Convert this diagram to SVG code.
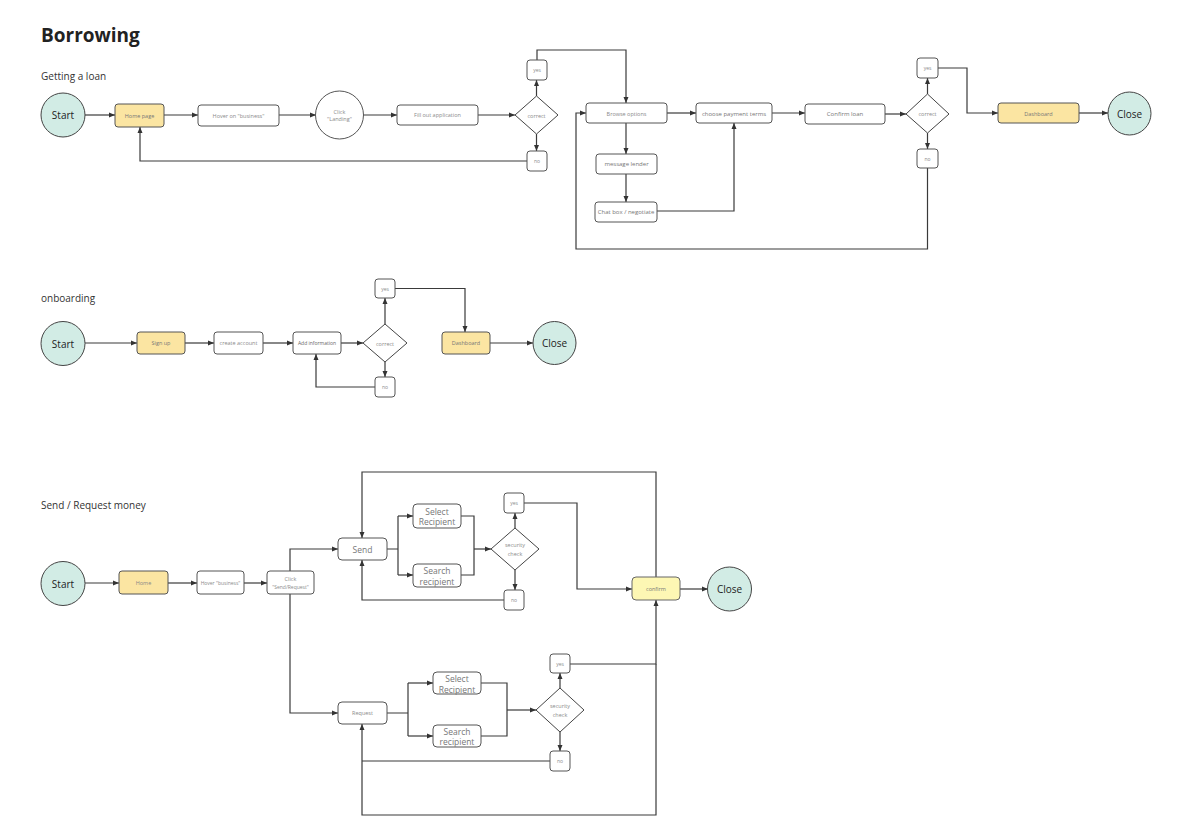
<svg xmlns="http://www.w3.org/2000/svg" width="1190" height="839" viewBox="0 0 1190 839">
<defs>
<marker id="ar" markerUnits="userSpaceOnUse" markerWidth="6" markerHeight="6" refX="6" refY="3" orient="auto">
<path d="M0,0.5 L6,3 L0,5.5 z" fill="#333"/>
</marker>
<style>
.ln{fill:none;stroke:#3a3a3a;stroke-width:1.2;}
.ar{marker-end:url(#ar);}
.box{fill:#fff;stroke:#555;stroke-width:1;}
.yel{fill:#fbe5a2;stroke:#555;stroke-width:1;}
.pale{fill:#fdf7b4;stroke:#666;stroke-width:1;}
.circ{fill:#d2ece5;stroke:#444;stroke-width:1;}
.dia{fill:#fff;stroke:#444;stroke-width:1;}
text{font-family:"Open Sans","Noto Sans","Liberation Sans",sans-serif;text-anchor:middle;dominant-baseline:central;}
.t6{font-size:5.5px;fill:#8a8a8a;}
.t5{font-size:5px;fill:#8a8a8a;}
.t7{font-size:6px;fill:#777;}
.t9{font-size:8.5px;fill:#777;}
.big{font-size:10px;fill:#222;}
.hd{font-size:10px;fill:#333;text-anchor:start;dominant-baseline:auto;}
</style>
</defs>
<rect width="1190" height="839" fill="#fff"/>
<text x="41" y="42" style="font-size:19px;font-weight:700;fill:#222;text-anchor:start;dominant-baseline:auto;">Borrowing</text>
<text class="hd" x="41" y="80">Getting a loan</text>
<text class="hd" x="41" y="302">onboarding</text>
<text class="hd" x="41" y="509">Send / Request money</text>

<g id="connectors">
<path class="ln ar" d="M85,115 H115"/>
<path class="ln ar" d="M164,115 H198"/>
<path class="ln ar" d="M279,115 H316"/>
<path class="ln ar" d="M363,115 H397"/>
<path class="ln ar" d="M478,115 H515"/>
<path class="ln ar" d="M536.5,96 V80"/>
<path class="ln ar" d="M536.5,134 V151"/>
<path class="ln ar" d="M537,60 V50 H626 V103"/>
<path class="ln ar" d="M527,161 H140 V127"/>
<path class="ln ar" d="M667,113 H696"/>
<path class="ln ar" d="M772,113 H805"/>
<path class="ln ar" d="M885,114 H906"/>
<path class="ln ar" d="M927.5,94 V78"/>
<path class="ln ar" d="M927.5,133 V149"/>
<path class="ln ar" d="M938,68 H967 V113 H998"/>
<path class="ln ar" d="M1079,113 H1108"/>
<path class="ln ar" d="M927.5,168 V249 H576 V113 H586"/>
<path class="ln ar" d="M626,123 V154"/>
<path class="ln ar" d="M626,174 V202"/>
<path class="ln ar" d="M657,211 H734 V123"/>
<path class="ln ar" d="M85,343 H137"/>
<path class="ln ar" d="M185,343 H214"/>
<path class="ln ar" d="M263,343 H293"/>
<path class="ln ar" d="M341,343 H363"/>
<path class="ln ar" d="M385,324 V298"/>
<path class="ln ar" d="M385,362 V377"/>
<path class="ln ar" d="M395,288.5 H465 V332"/>
<path class="ln ar" d="M490,343 H533"/>
<path class="ln ar" d="M375,387 H316 V354"/>
<path class="ln ar" d="M85,583 H119"/>
<path class="ln ar" d="M168,583 H197"/>
<path class="ln ar" d="M244,583 H267"/>
<path class="ln ar" d="M290,571 V549 H338"/>
<path class="ln ar" d="M290,594 V713 H338"/>
<path class="ln" d="M387,549 H398 M398,516 V575"/>
<path class="ln ar" d="M398,516 H413"/>
<path class="ln ar" d="M398,575 H413"/>
<path class="ln" d="M461,516 H474 V575 H461"/>
<path class="ln ar" d="M474,549 H491"/>
<path class="ln ar" d="M515,528 V513"/>
<path class="ln ar" d="M515,570 V590"/>
<path class="ln ar" d="M524,503 H577 V589 H632"/>
<path class="ln ar" d="M504,600 H362 V560"/>
<path class="ln ar" d="M656,577 V472 H362 V538"/>
<path class="ln ar" d="M680,589 H708"/>
<path class="ln" d="M387,713 H408 M408,683 V736"/>
<path class="ln ar" d="M408,683 H433"/>
<path class="ln ar" d="M408,736 H433"/>
<path class="ln" d="M481,683 H507 V736 H481"/>
<path class="ln ar" d="M507,710 H536"/>
<path class="ln ar" d="M560,688 V673"/>
<path class="ln ar" d="M560,732 V751"/>
<path class="ln ar" d="M570,664 H656 V600"/>
<path class="ln ar" d="M656,664 V815 H362 V724"/>
<path class="ln" d="M550,761 H362"/>
</g>

<g id="l-start"><circle class="circ" cx="63" cy="115" r="22"/><text class="big" x="63" y="115">Start</text></g>
<g id="l-home"><rect class="yel" x="115" y="104" width="49" height="23" rx="3"/><text class="t6" x="139.5" y="115.5" style="fill:#777">Home page</text></g>
<g id="l-hover"><rect class="box" x="198" y="105" width="81" height="21" rx="3"/><text class="t6" x="238.5" y="115.5">Hover on "business"</text></g>
<g id="l-click"><circle class="box" cx="339.5" cy="115" r="24"/><text class="t6" x="339.5" y="111.5">Click</text><text class="t6" x="339.5" y="118.5">"Landing"</text></g>
<g id="l-fill"><rect class="box" x="397" y="105" width="81" height="20" rx="3"/><text class="t6" x="437.5" y="115">Fill out application</text></g>
<g id="l-correct1"><path class="dia" d="M536.5,96 L558,115 L536.5,134 L515,115 Z"/><text class="t6" x="536.5" y="115.5">correct</text></g>
<g id="l-yes1"><rect class="box" x="527" y="60" width="20" height="20" rx="3"/><text class="t5" x="537" y="70">yes</text></g>
<g id="l-no1"><rect class="box" x="527" y="151" width="20" height="20" rx="3"/><text class="t5" x="537" y="161">no</text></g>
<g id="l-browse"><rect class="box" x="586" y="103" width="81" height="20" rx="3"/><text class="t6" x="626.5" y="113.5">Browse options</text></g>
<g id="l-choose"><rect class="box" x="696" y="103" width="76" height="20" rx="3"/><text class="t7" x="734" y="113.5">choose payment terms</text></g>
<g id="l-confirm"><rect class="box" x="805" y="104" width="80" height="20" rx="3"/><text class="t7" x="845" y="114">Confirm loan</text></g>
<g id="l-correct2"><path class="dia" d="M927.5,94 L949,114 L927.5,133 L906,114 Z"/><text class="t6" x="927.5" y="114">correct</text></g>
<g id="l-yes2"><rect class="box" x="917" y="58" width="21" height="20" rx="3"/><text class="t5" x="927.5" y="68">yes</text></g>
<g id="l-no2"><rect class="box" x="917" y="149" width="21" height="19" rx="3"/><text class="t5" x="927.5" y="158.5">no</text></g>
<g id="l-dash"><rect class="yel" x="998" y="103" width="81" height="20" rx="3"/><text class="t6" x="1038.5" y="113.5" style="fill:#777">Dashboard</text></g>
<g id="l-close"><circle class="circ" cx="1129.5" cy="113.5" r="21.5"/><text class="big" x="1129.5" y="113.5">Close</text></g>
<g id="l-msg"><rect class="box" x="596" y="154" width="61" height="20" rx="3"/><text class="t7" x="626.5" y="164">message lender</text></g>
<g id="l-chat"><rect class="box" x="595" y="202" width="62" height="20" rx="3"/><text class="t7" x="626" y="212">Chat box / negotiate</text></g>

<g id="o-start"><circle class="circ" cx="63" cy="343.5" r="22"/><text class="big" x="63" y="343.5">Start</text></g>
<g id="o-signup"><rect class="yel" x="137" y="332" width="48" height="22" rx="3"/><text class="t6" x="161" y="343" style="fill:#777">Sign up</text></g>
<g id="o-create"><rect class="box" x="214" y="332" width="49" height="22" rx="3"/><text class="t6" x="238.5" y="343">create account</text></g>
<g id="o-add"><rect class="box" x="293" y="332" width="48" height="22" rx="3"/><text class="t6" x="317" y="343" style="fill:#666;font-size:5px">Add information</text></g>
<g id="o-correct"><path class="dia" d="M385,324 L407,343 L385,362 L363,343 Z"/><text class="t6" x="385" y="343.5">correct</text></g>
<g id="o-yes"><rect class="box" x="375" y="279" width="20" height="19" rx="3"/><text class="t5" x="385" y="288.5">yes</text></g>
<g id="o-no"><rect class="box" x="375" y="377" width="20" height="20" rx="3"/><text class="t5" x="385" y="387">no</text></g>
<g id="o-dash"><rect class="yel" x="442" y="332" width="48" height="22" rx="3"/><text class="t6" x="466" y="343" style="fill:#777">Dashboard</text></g>
<g id="o-close"><circle class="circ" cx="554.5" cy="343" r="21.5"/><text class="big" x="554.5" y="343">Close</text></g>

<g id="s-start"><circle class="circ" cx="63" cy="583.5" r="22"/><text class="big" x="63" y="583.5">Start</text></g>
<g id="s-home"><rect class="yel" x="119" y="571" width="49" height="23" rx="3"/><text class="t6" x="143.5" y="582.5" style="fill:#888">Home</text></g>
<g id="s-hover"><rect class="box" x="197" y="571" width="47" height="23" rx="3"/><text class="t6" x="220.5" y="582.5" style="font-size:5px">Hover "business"</text></g>
<g id="s-click"><rect class="box" x="267" y="571" width="47" height="23" rx="3"/><text class="t6" x="290.5" y="579">Click</text><text class="t6" x="290.5" y="586.5" style="font-size:5px">"Send/Request"</text></g>
<g id="s-send"><rect class="box" x="338" y="538" width="49" height="22" rx="4"/><text class="t9" x="362.5" y="549">Send</text></g>
<g id="s-select1"><rect class="box" x="413" y="504" width="48" height="24" rx="4"/><text class="t9" x="437" y="511">Select</text><text class="t9" x="437" y="521.5">Recipient</text></g>
<g id="s-search1"><rect class="box" x="413" y="564" width="48" height="23" rx="4"/><text class="t9" x="437" y="570.5">Search</text><text class="t9" x="437" y="581">recipient</text></g>
<g id="s-sec1"><path class="dia" d="M515,528 L539,549 L515,570 L491,549 Z"/><text class="t6" x="515" y="545">security</text><text class="t6" x="515" y="553.5">check</text></g>
<g id="s-yes1"><rect class="box" x="504" y="493" width="20" height="20" rx="3"/><text class="t5" x="514" y="503">yes</text></g>
<g id="s-no1"><rect class="box" x="504" y="590" width="20" height="20" rx="3"/><text class="t5" x="514" y="600">no</text></g>
<g id="s-confirm"><rect class="pale" x="632" y="577" width="48" height="23" rx="4"/><text class="t6" x="656" y="588.5" style="fill:#777">confirm</text></g>
<g id="s-close"><circle class="circ" cx="729.5" cy="589" r="22"/><text class="big" x="729.5" y="589">Close</text></g>
<g id="s-request"><rect class="box" x="338" y="702" width="49" height="22" rx="4"/><text class="t6" x="362.5" y="713">Request</text></g>
<g id="s-select2"><rect class="box" x="433" y="672" width="48" height="22" rx="4"/><text class="t9" x="457" y="678.5">Select</text><text class="t9" x="457" y="689">Recipient</text></g>
<g id="s-search2"><rect class="box" x="433" y="725" width="48" height="22" rx="4"/><text class="t9" x="457" y="731">Search</text><text class="t9" x="457" y="741.5">recipient</text></g>
<g id="s-sec2"><path class="dia" d="M560,688 L584,710 L560,732 L536,710 Z"/><text class="t6" x="560" y="706">security</text><text class="t6" x="560" y="714.5">check</text></g>
<g id="s-yes2"><rect class="box" x="550" y="654" width="20" height="19" rx="3"/><text class="t5" x="560" y="663.5">yes</text></g>
<g id="s-no2"><rect class="box" x="550" y="751" width="20" height="20" rx="3"/><text class="t5" x="560" y="761">no</text></g>
</svg>
